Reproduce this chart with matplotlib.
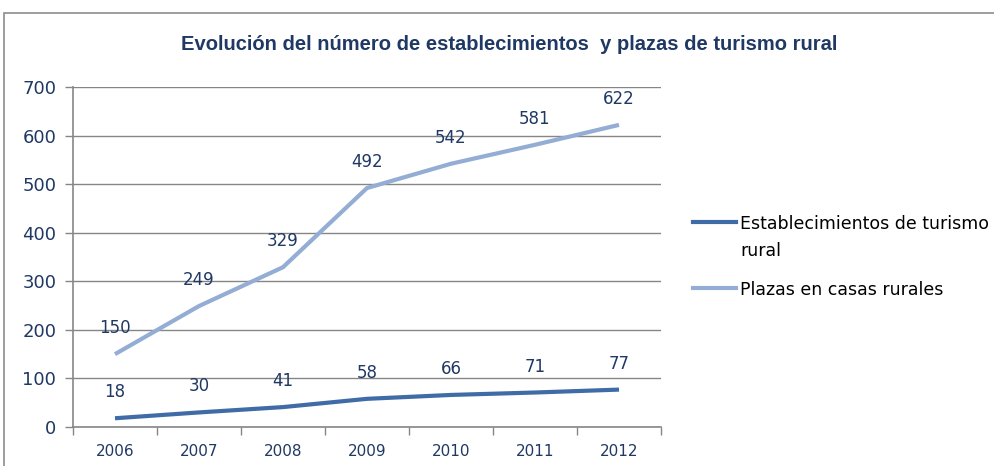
import matplotlib
matplotlib.use("Agg")
import matplotlib.pyplot as plt
from matplotlib.patches import Rectangle
from matplotlib.lines import Line2D

years = ["2006", "2007", "2008", "2009", "2010", "2011", "2012"]
establecimientos = [18, 30, 41, 58, 66, 71, 77]
plazas = [150, 249, 329, 492, 542, 581, 622]
series_names = ["Establecimientos de turismo\nrural", "Plazas en casas rurales"]
title = "Evolución del número de establecimientos  y plazas de turismo rural"

W, H = 995, 466
fig = plt.figure(figsize=(W / 100, H / 100), dpi=100)
navy = "#1F3864"
gray = "#868686"
c_dark = "#3F6CA6"
c_light = "#93ADD4"

# outer frame
fig.patches.append(Rectangle((4 / W, -0.05), 1.0, (H - 13) / H + 0.05, transform=fig.transFigure,
                             fill=False, edgecolor="#8C8C8C", linewidth=1.2))

ax = fig.add_axes([73 / W, 39 / H, (661 - 73) / W, (427 - 87) / H])
x = list(range(len(years)))
ax.plot(x, establecimientos, color=c_dark, lw=3.0, solid_capstyle="butt")
ax.plot(x, plazas, color=c_light, lw=3.0, solid_capstyle="butt")
for xi, v in zip(x, establecimientos):
    ax.annotate(str(v), (xi, v), xytext=(0, 26), textcoords="offset pixels",
                ha="center", va="center", fontsize=12, color=navy)
for xi, v in zip(x, plazas):
    ax.annotate(str(v), (xi, v), xytext=(0, 26), textcoords="offset pixels",
                ha="center", va="center", fontsize=12, color=navy)

ax.set_xlim(-0.5, len(years) - 0.5)
ax.set_ylim(0, 700)
ax.set_yticks(range(0, 701, 100))
ax.tick_params(axis="y", labelsize=13, labelcolor=navy, color=gray, length=6, width=1, pad=6)
ax.set_xticks(x)
ax.set_xticklabels(years)
ax.set_xticks([i - 0.5 for i in range(len(years) + 1)], minor=True)
ax.tick_params(axis="x", which="major", length=0, labelsize=11, labelcolor=navy, pad=12)
ax.tick_params(axis="x", which="minor", length=6, color=gray, width=1)
ax.grid(axis="y", color=gray, lw=1)
ax.set_axisbelow(True)
for s in ["top", "right"]:
    ax.spines[s].set_visible(False)
for s in ["left", "bottom"]:
    ax.spines[s].set_color(gray)
    ax.spines[s].set_linewidth(1.2)

fig.text(509 / W, 1 - 45 / H, title, ha="center", va="center", fontsize=14.5,
         fontweight="bold", color=navy, family="Liberation Sans")

# legend
for yy, col in [(222, c_dark), (288, c_light)]:
    fig.add_artist(Line2D([693 / W, 736 / W], [1 - yy / H, 1 - yy / H], color=col, lw=3.0,
                          transform=fig.transFigure))
fig.text(740 / W, 1 - 224 / H, "Establecimientos de turismo", ha="left", va="center", fontsize=12.5, color="#000000")
fig.text(740 / W, 1 - 251 / H, "rural", ha="left", va="center", fontsize=12.5, color="#000000")
fig.text(740 / W, 1 - 290 / H, series_names[1], ha="left", va="center", fontsize=12.5, color="#000000")

fig.savefig("out.png", dpi=100)
